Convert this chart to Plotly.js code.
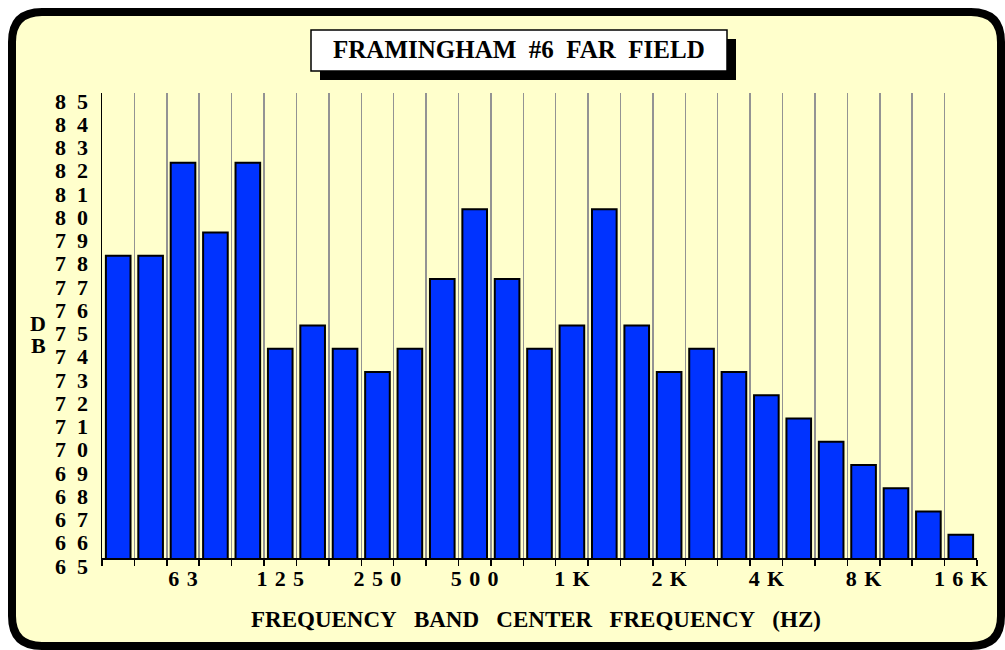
<!DOCTYPE html>
<html>
<head>
<meta charset="utf-8">
<script src="https://cdn.plot.ly/plotly-3.0.1.min.js"></script>
<style>html,body{margin:0;padding:0;background:#fff;}#chart{width:1005px;height:650px;}</style>
</head>
<body>
<div id="chart"></div>
<script>
// ---- data ----
const bands = ['40','50','63','80','100','125','160','200','250','315','400','500','630','800','1K','1.25K','1.6K','2K','2.5K','3.15K','4K','5K','6.3K','8K','10K','12.5K','16K'];
const levels = [78,78,82,79,82,74,75,74,73,74,77,80,77,74,75,80,75,73,74,73,72,71,70,69,68,67,66];
const xTickLabels = ['','','6\u20043','','','1\u20042\u20045','','','2\u20045\u20040','','','5\u20040\u20040','','','1\u2004K','','','2\u2004K','','','4\u2004K','','','8\u2004K','','','1\u20046\u2004K'];
const yTickVals = [65,66,67,68,69,70,71,72,73,74,75,76,77,78,79,80,81,82,83,84,85];
const yTickLabels = ['6\u20025','6\u20026','6\u20027','6\u20028','6\u20029','7\u20020','7\u20021','7\u20022','7\u20023','7\u20024','7\u20025','7\u20026','7\u20027','7\u20028','7\u20029','8\u20020','8\u20021','8\u20022','8\u20023','8\u20024','8\u20025'];
const titleText = 'FRAMINGHAM\u2002#6\u2002FAR\u2002FIELD';
const xTitleText = 'FREQUENCY\u2002 BAND\u2002 CENTER\u2002 FREQUENCY\u2002 (HZ)';

// ---- layout geometry (pixels) ----
const PL = 102, PR = 977, PT = 93, PB = 558;
const fx = x => (x - PL) / (PR - PL);
const fy = y => (PB - y) / (PB - PT);
const FONT = 'Liberation Serif, Times New Roman, serif';

function roundRectPath(L, T, R, B, r) {
  const p = (x, y) => fx(x) + ',' + fy(y);
  return 'M' + p(L + r, T) + ' L' + p(R - r, T) + ' Q' + p(R, T) + ' ' + p(R, T + r) +
    ' L' + p(R, B - r) + ' Q' + p(R, B) + ' ' + p(R - r, B) +
    ' L' + p(L + r, B) + ' Q' + p(L, B) + ' ' + p(L, B - r) +
    ' L' + p(L, T + r) + ' Q' + p(L, T) + ' ' + p(L + r, T) + ' Z';
}

const trace = {
  type: 'bar',
  x: bands,
  y: levels,
  width: 0.76,
  marker: {color: '#0033FF', line: {color: '#000000', width: 2}},
  hoverinfo: 'x+y'
};

const layout = {
  width: 1005, height: 650,
  margin: {l: PL, r: 1005 - PR, t: PT, b: 650 - PB, pad: 0},
  paper_bgcolor: '#ffffff',
  plot_bgcolor: 'rgba(0,0,0,0)',
  showlegend: false,
  font: {family: FONT, color: '#000', size: 20, weight: 'bold'},
  xaxis: {
    type: 'category',
    range: [-0.5, 26.5],
    tickmode: 'array',
    tickvals: bands,
    ticktext: xTickLabels,
    tickson: 'boundaries',
    tickangle: 0,
    ticks: 'outside', ticklen: 6, tickwidth: 1.5, tickcolor: '#000',
    showgrid: true, gridcolor: '#939393', gridwidth: 1.5,
    showline: true, linecolor: '#000', linewidth: 1.5,
    tickfont: {family: FONT, size: 22, color: '#000', weight: 'bold'},
    automargin: false, fixedrange: true
  },
  yaxis: {
    range: [65, 85],
    tickmode: 'array',
    tickvals: yTickVals,
    ticktext: yTickLabels,
    ticks: '',
    showgrid: false, zeroline: false,
    showline: true, linecolor: '#000', linewidth: 1.5,
    tickfont: {family: FONT, size: 22, color: '#000', weight: 'bold'},
    ticklabelshift: 8,
    ticklabelstandoff: 8,
    automargin: false, fixedrange: true
  },
  shapes: [
    {type: 'path', xref: 'paper', yref: 'paper', layer: 'below',
     path: roundRectPath(12, 12, 1001, 646, 30),
     fillcolor: '#FFFFCC', line: {color: '#000', width: 8}},
    {type: 'rect', xref: 'paper', yref: 'paper', layer: 'above',
     x0: fx(320), x1: fx(736), y0: fy(80), y1: fy(39),
     fillcolor: '#000', line: {width: 0}},
    {type: 'rect', xref: 'paper', yref: 'paper', layer: 'above',
     x0: fx(311), x1: fx(727), y0: fy(71), y1: fy(30),
     fillcolor: '#fff', line: {color: '#000', width: 1.5}}
  ],
  annotations: [
    {xref: 'paper', yref: 'paper', x: fx(519), y: fy(50), xanchor: 'center', yanchor: 'middle',
     text: titleText, showarrow: false, font: {family: FONT, size: 25, color: '#000', weight: 'bold'}},
    {xref: 'paper', yref: 'paper', x: fx(536), y: fy(619), xanchor: 'center', yanchor: 'middle',
     text: xTitleText, showarrow: false, font: {family: FONT, size: 23, color: '#000', weight: 'bold'}},
    {xref: 'paper', yref: 'paper', x: fx(38), y: fy(323), xanchor: 'center', yanchor: 'middle',
     text: 'D', showarrow: false, font: {family: FONT, size: 22, color: '#000', weight: 'bold'}},
    {xref: 'paper', yref: 'paper', x: fx(38), y: fy(345), xanchor: 'center', yanchor: 'middle',
     text: 'B', showarrow: false, font: {family: FONT, size: 22, color: '#000', weight: 'bold'}}
  ]
};

Plotly.newPlot('chart', [trace], layout, {displayModeBar: false, staticPlot: true});
</script>
</body>
</html>
